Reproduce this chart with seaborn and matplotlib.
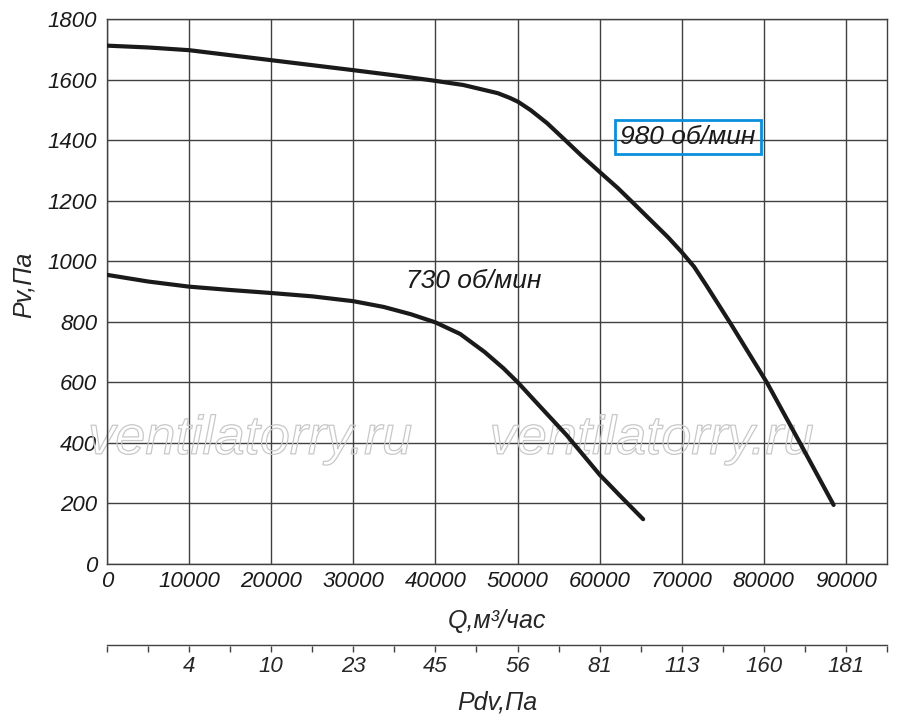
import numpy as np
import pandas as pd
import seaborn as sns
import matplotlib
matplotlib.use('Agg')
import matplotlib.pyplot as plt
import matplotlib.ticker as ticker
import matplotlib.patheffects as pe

# fan curves
q_980 = [0, 5000, 10000, 20000, 30000, 35000, 39400, 43400, 47600, 49100, 50100,
         51600, 53600, 55800, 57700, 60000, 62200, 64100, 66200, 68300, 70000,
         71500, 73000, 76000, 80400, 84500, 88500]
p_980 = [1712, 1706, 1697, 1664, 1631, 1614, 1598, 1582, 1555, 1539, 1526,
         1499, 1456, 1400, 1351, 1295, 1242, 1192, 1136, 1080, 1030,
         982, 920, 792, 598, 395, 195]
q_730 = [0, 5000, 10000, 15000, 20000, 25000, 30000, 33700, 37000, 40000, 43000,
         46000, 48300, 50100, 52000, 56000, 60000, 62500, 65300]
p_730 = [955, 933, 916, 905, 895, 884, 868, 849, 825, 798, 760,
         700, 646, 598, 542, 425, 295, 225, 148]

pdv_ticks = [10000, 20000, 30000, 40000, 50000, 60000, 70000, 80000, 90000]
pdv_labels = ['4', '10', '23', '45', '56', '81', '113', '160', '181']

df = pd.concat([
    pd.DataFrame({'Q': q_980, 'P': p_980, 'rpm': '980'}),
    pd.DataFrame({'Q': q_730, 'P': p_730, 'rpm': '730'}),
])

sns.set_style('white')
fam = ['Liberation Sans', 'DejaVu Sans']
plt.rcParams['font.family'] = fam
plt.rcParams['font.style'] = 'italic'

fig = plt.figure(figsize=(9, 7.24), dpi=100)
ax = fig.add_axes([107/900, 1-564/724, 780/900, 545/724])

ax.grid(True, color='#404040', linewidth=1.0)
ax.set_axisbelow(True)

# watermarks, hollow grey text
for xw in [-2300, 46600]:
    ax.text(xw, 410, 'ventilatorry.ru', fontsize=39, color='none', va='center',
            style='italic', family=fam,
            path_effects=[pe.Stroke(linewidth=0.9, foreground='#c8c8c8')],
            zorder=1, clip_on=False)

sns.lineplot(data=df, x='Q', y='P', units='rpm', estimator=None, sort=False,
             color='#1a1a1a', linewidth=3.0, ax=ax, legend=False, zorder=3)

ax.set_xlim(0, 95000)
ax.set_ylim(0, 1800)
ax.xaxis.set_major_locator(ticker.MultipleLocator(10000))
ax.yaxis.set_major_locator(ticker.MultipleLocator(200))
ax.tick_params(axis='both', labelsize=16, length=0, colors='#1a1a1a')
ax.tick_params(axis='x', pad=5)
ax.tick_params(axis='y', pad=7)
for s in ax.spines.values():
    s.set_color('#404040')
    s.set_linewidth(1.0)

ax.set_xlabel('Q,м³/час', fontsize=18, labelpad=12)
ax.set_ylabel('Pv,Па', fontsize=18)
ax.yaxis.set_label_coords(-0.092, 0.512)

ax.text(36400, 935, '730 об/мин', fontsize=19, color='#1a1a1a', va='center')
ax.text(62500, 1410, '980 об/мин', fontsize=19, color='#1a1a1a', va='center',
        bbox=dict(boxstyle='square,pad=0.2', facecolor='none',
                  edgecolor='#0a8fdc', linewidth=2))

# second scale: dynamic pressure
ax2 = fig.add_axes([107/900, 1-646/724, 780/900, 0.001])
ax2.set_xlim(0, 95000)
ax2.set_yticks([])
for side in ['left', 'right', 'bottom']:
    ax2.spines[side].set_visible(False)
ax2.spines['top'].set_color('#404040')
ax2.spines['top'].set_linewidth(1.0)
ax2.set_facecolor('none')
ax2.set_xticks(pdv_ticks)
ax2.set_xticklabels(pdv_labels)
ax2.xaxis.set_minor_locator(ticker.MultipleLocator(5000))
ax2.tick_params(axis='x', which='both', bottom=True, direction='out', length=4,
                width=1, color='#404040', labelsize=16, pad=3)
ax2.set_xlabel('Pdv,Па', fontsize=18, labelpad=10)

fig.savefig('out.png', dpi=100)
